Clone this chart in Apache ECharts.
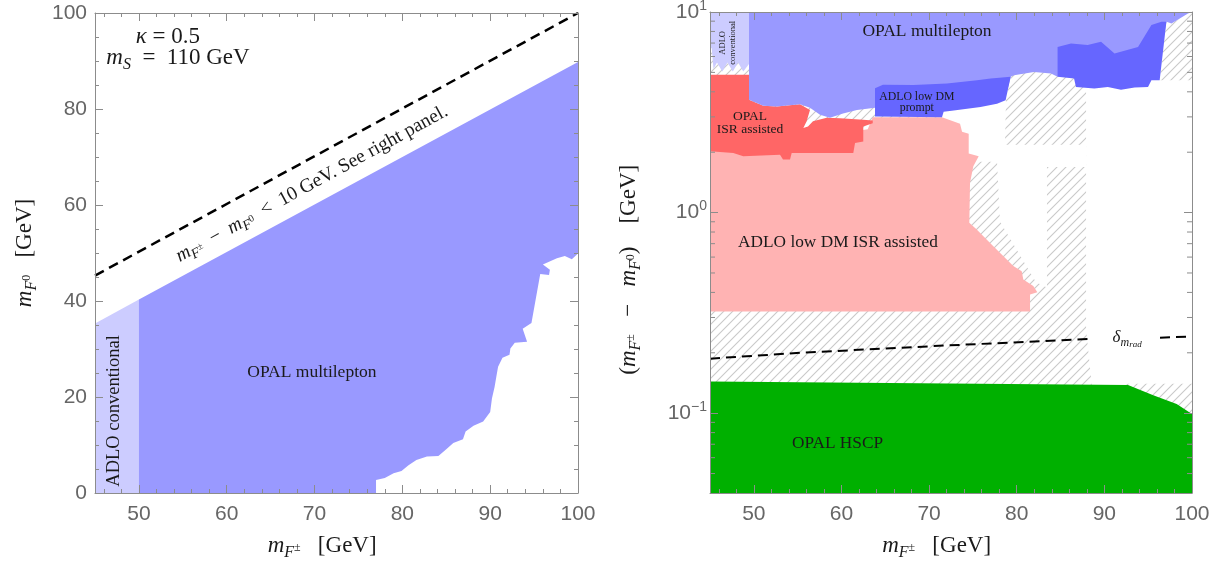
<!DOCTYPE html>
<html><head><meta charset="utf-8">
<script src="https://cdn.jsdelivr.net/npm/echarts@6/dist/echarts.min.js"></script>
<style>html,body{margin:0;padding:0;background:#fff}#c{width:1223px;height:565px}</style>
</head><body><div id="c"></div>
<script>
// ================= DATA =================
// Left panel (m_F0 vs m_F±)
const leftAdloConventional = [[45,0],[50,0],[50,40.3],[45,35.3]];
const leftOpalMultilepton = [[50,40.3],[100,89.8],[100,49.9],[99.3,48.7],[98.5,49.4],[97.6,48.9],[96.0,47.6],[96.8,46.5],[96.7,45.4],[95.7,45.6],[94.7,35.4],[93.7,34.2],[94.2,31.5],[92.8,31.3],[92.3,30.1],[92.2,28.8],[91.4,28.2],[90.9,26.3],[90.7,24.2],[90.5,22.1],[90.2,19.7],[90.0,16.9],[89.2,14.9],[88.1,14.0],[87.2,12.8],[86.9,11.2],[85.8,10.4],[85.0,9.1],[84.1,7.7],[82.8,7.6],[81.6,6.9],[80.7,5.8],[79.9,4.6],[79.0,4.1],[78.0,3.1],[77.0,2.7],[77.0,0],[50,0]];
const leftDiagonal = [[45,45.3],[100,100]];

// Right panel (mass splitting vs m_F±)
const rightHatchMain = [[45,6.62],[49.45,6.62],[49.45,3.65],[78.78,3.73],[79.46,4.92],[81.97,5.08],[87.91,5.08],[87.91,0.262],[88.59,0.135],[45,0.135]];
const rightHatchCorner = [[96.31,4.57],[97.08,8.94],[97.66,8.77],[99.54,9.84],[100,10],[100,4.57]];
const rightHatchHscp = [[92.0,0.14],[100,0.14],[100,0.09],[92.0,0.09]];
const rightClearGap = [[71.25,3.73],[78.78,3.73],[78.66,2.18],[87.91,2.18],[87.91,1.69],[83.45,1.69],[83.45,0.423],[82.2,0.449],[78.09,0.902],[77.75,1.79],[71.25,1.79]];
const rightOpalHscp = [[45,0.04],[45,0.144],[92.7,0.138],[95.58,0.123],[98.25,0.111],[100,0.099],[100,0.04]];
const rightAdloIsr = [[45,0.321],[81.52,0.321],[81.52,0.391],[82.35,0.401],[81.89,0.430],[80.75,0.464],[80.57,0.510],[79.61,0.541],[77.33,0.679],[75.43,0.823],[74.59,0.889],[74.67,1.41],[75.05,1.70],[75.66,1.91],[74.52,1.97],[74.52,2.47],[73.76,2.53],[73.53,2.77],[71.47,2.99],[63.57,2.99],[63.0,2.6],[55,2.3],[45,2.3]];
const rightOpalIsr = [[45,4.86],[49.45,4.86],[49.45,3.65],[51.08,3.41],[52.61,3.38],[55.27,3.47],[56.41,3.25],[56.03,2.85],[55.65,2.64],[56.18,2.69],[56.75,2.85],[58.32,2.97],[59.83,2.95],[62.49,2.90],[63.57,2.88],[63.57,2.79],[62.49,2.69],[62.49,2.26],[61.55,2.22],[61.35,1.98],[54.32,1.98],[54.13,1.84],[53.33,1.84],[52.99,1.945],[48.80,1.91],[47.66,1.98],[45,2.02]];
const rightAdloConventional = [[45,10],[49.45,10],[49.45,5.5],[48.8,5.05],[48.2,5.6],[47.6,5.05],[47.0,5.6],[46.4,5.05],[45.8,5.6],[45.4,5.2],[45.2,6.6],[45,6.62]];
const rightOpalMultilepton = [[49.45,10],[100,10],[99.54,9.84],[97.66,8.77],[97.08,8.94],[96.2,5.5],[85.0,5.2],[84.66,4.75],[83.91,4.93],[81.97,5.02],[79.69,4.84],[79.31,4.75],[79.0,4.2],[75,3.6],[65,3.3],[63.83,3.33],[61.77,3.25],[60.18,3.12],[58.69,2.97],[57.55,3.07],[56.41,3.33],[55.27,3.47],[52.61,3.38],[51.08,3.41],[49.45,3.65]];
const rightAdloPromptA = [[63.83,3.01],[63.83,4.17],[64.74,4.34],[68.22,4.32],[72.04,4.40],[75.47,4.57],[77.02,4.66],[79.31,4.75],[78.73,3.63],[77.75,3.49],[75.87,3.36],[72.81,3.23],[71.66,3.18],[71.47,2.99]];
const rightAdloPromptB = [[84.66,6.70],[86.19,6.96],[88.10,6.84],[89.62,7.10],[91.16,6.21],[93.84,6.70],[95.37,8.61],[96.51,8.94],[97.08,8.94],[96.31,4.57],[95.37,4.57],[94.98,4.23],[93.45,4.20],[91.90,4.10],[90.39,4.23],[88.86,4.15],[86.76,4.23],[86.54,4.66],[84.66,4.75]];
const rightDeltaRadA = [[45,0.187],[55.3,0.200],[70.5,0.216],[88.7,0.235]];
const rightDeltaRadB = [[96.35,0.238],[100,0.241]];

// Ticks
const rightYMinorTicks = [0.05,0.06,0.07,0.08,0.09,0.2,0.3,0.4,0.5,0.6,0.7,0.8,0.9,2,3,4,5,6,7,8,9];

// Text labels
const leftTexts = [
  {at:[53.3,95.0], text:'{it|κ}{rm| = 0.5}', size:23},
  {at:[54.45,90.6], text:'{it|m}{sub|S}{rm|  =  110 GeV}', size:23},
  {at:[69.7,64.4], text:'{it|m}{sub|F}{ss|±}{rm|  −  }{it|m}{sub|F}{ss|0}{rm|  <  10 GeV. See right panel.}', size:19.5, rot:28.7},
  {at:[69.7,25.2], text:'OPAL multilepton', size:17.5},
  {at:[47.16,17.1], text:'ADLO conventional', size:18.5, rot:90}
];
const rightTexts = [
  {at:[69.76,7.96], text:'OPAL multilepton', size:17.5},
  {at:[47.05,7.02], text:'ADLO\nconventional', size:8.5, rot:90, lh:10},
  {at:[49.56,2.81], text:'OPAL\nISR assisted', size:13.5, lh:13},
  {at:[68.6,3.56], text:'ADLO low DM\nprompt', size:11.8, lh:11},
  {at:[59.6,0.71], text:'ADLO low DM ISR assisted', size:17.3},
  {at:[59.55,0.071], text:'OPAL HSCP', size:17.3},
  {at:[92.6,0.237], text:'{it|δ}{sub|m}{ss2|rad}', size:17}
];
const xName = '{it|m}{sub|F}{ss|±}{rm|   [GeV]     }';
const leftYName = '{it|m}{sub|F}{ss|0}{rm|   [GeV]}';
const rightYName = '{rm|(}{it|m}{sub|F}{ss|±}{rm|   −   }{it|m}{sub|F}{ss|0}{rm|)    [GeV]      }';

// ================= STYLE =================
const SERIF = "'Liberation Serif','DejaVu Serif',serif";
const SANS = "'Liberation Sans',Arial,sans-serif";
const TXT = '#1a1a1a';
const AX = '#8c8c8c';
const LBL = '#666666';

function mathRich(S) {
  const sub = Math.round(S*0.7), ss = Math.max(6, Math.round(S*0.52));
  return {
    it: {fontFamily:SERIF, fontStyle:'italic', fontSize:S, color:TXT, fill:TXT, lineHeight:Math.round(S*1.3)},
    rm: {fontFamily:SERIF, fontSize:S, color:TXT, fill:TXT, lineHeight:Math.round(S*1.3)},
    sub: {fontFamily:SERIF, fontStyle:'italic', fontSize:sub, color:TXT, fill:TXT, verticalAlign:'bottom', lineHeight:sub},
    ss: {fontFamily:SERIF, fontSize:ss, color:TXT, fill:TXT, verticalAlign:'bottom', lineHeight:ss, padding:[0,0,Math.round(S*0.32),0]},
    ss2: {fontFamily:SERIF, fontStyle:'italic', fontSize:ss, color:TXT, fill:TXT, verticalAlign:'bottom', lineHeight:ss}
  };
}

function makeHatch() {
  const s = 9;
  const c = document.createElement('canvas'); c.width = s; c.height = s;
  const g = c.getContext('2d');
  g.strokeStyle = '#c9c9c9'; g.lineWidth = 1.1;
  g.beginPath();
  g.moveTo(0,s); g.lineTo(s,0);
  g.moveTo(-2,2); g.lineTo(2,-2);
  g.moveTo(s-2,s+2); g.lineTo(s+2,s-2);
  g.stroke();
  return {image:c, repeat:'repeat'};
}
const HATCH = makeHatch();

function poly(pts, xi, yi, fill) {
  return {
    type:'custom', xAxisIndex:xi, yAxisIndex:yi, silent:true, z:2,
    data: pts, encode:{x:0, y:1},
    renderItem: function(params, api) {
      if (params.dataIndex !== 0) return null;
      return {type:'polygon', shape:{points: pts.map(p => api.coord(p))}, style:{fill:fill, stroke:null}};
    }
  };
}
function dashed(pts, xi, yi, w) {
  return {type:'line', xAxisIndex:xi, yAxisIndex:yi, data:pts, showSymbol:false, symbol:'none', silent:true, z:5,
    lineStyle:{color:'#000', width:w, type:[10,6]}};
}
function txt(item, xi, yi) {
  return {
    type:'custom', xAxisIndex:xi, yAxisIndex:yi, silent:true, z:20,
    data:[item.at], encode:{x:0, y:1},
    renderItem: function(params, api) {
      const p = api.coord(item.at);
      return {type:'text', x:p[0], y:p[1], rotation:(item.rot||0)*Math.PI/180,
        style:{text:item.text, rich:mathRich(item.size), fontFamily:SERIF, fontSize:item.size, fill:TXT,
          align:'center', verticalAlign:'middle', lineHeight:item.lh || Math.round(item.size*1.3)}};
    }
  };
}
function logMinorTicks(vals, xi, yi) {
  return {
    type:'custom', xAxisIndex:xi, yAxisIndex:yi, silent:true, z:30, clip:false,
    data: vals.map(v => [45, v]), encode:{x:0, y:1},
    renderItem: function(params, api) {
      const v = vals[params.dataIndex];
      const a = api.coord([45, v]), b = api.coord([100, v]);
      return {type:'group', children:[
        {type:'line', shape:{x1:a[0], y1:a[1], x2:a[0]+5, y2:a[1]}, style:{stroke:AX, lineWidth:1}},
        {type:'line', shape:{x1:b[0]-5, y1:b[1], x2:b[0], y2:b[1]}, style:{stroke:AX, lineWidth:1}}
      ]};
    }
  };
}

function frameAxis(extra) {
  const base = {
    axisLine:{show:true, onZero:false, lineStyle:{color:AX, width:1}},
    axisTick:{show:true, inside:true, length:8, lineStyle:{color:AX, width:1}},
    minorTick:{show:true, splitNumber:5, length:4, lineStyle:{color:AX, width:1}},
    splitLine:{show:false}, minorSplitLine:{show:false},
    axisLabel:{show:false},
    z:10
  };
  return Object.assign(base, extra);
}
const tickLabel = {show:true, color:LBL, fontFamily:SANS, fontSize:21, showMinLabel:false};
const nameStyle = {fontFamily:SERIF, fontSize:23, color:TXT, rich:mathRich(23)};

const option = {
  animation:false,
  backgroundColor:'#fff',
  grid:[
    {left:95, top:13, width:483, height:480, containLabel:false, outerBoundsMode:'none'},
    {left:710, top:12, width:482, height:481, containLabel:false, outerBoundsMode:'none'}
  ],
  xAxis:[
    frameAxis({type:'value', gridIndex:0, min:45, max:100, position:'bottom',
      axisLabel:Object.assign({}, tickLabel, {margin:11}),
      name:xName, nameLocation:'middle', nameGap:38, nameTextStyle:nameStyle}),
    frameAxis({type:'value', gridIndex:0, min:45, max:100, position:'top'}),
    frameAxis({type:'value', gridIndex:1, min:45, max:100, position:'bottom',
      axisLabel:Object.assign({}, tickLabel, {margin:11}),
      name:xName, nameLocation:'middle', nameGap:38, nameTextStyle:nameStyle}),
    frameAxis({type:'value', gridIndex:1, min:45, max:100, position:'top'})
  ],
  yAxis:[
    frameAxis({type:'value', gridIndex:0, min:0, max:100, position:'left',
      minorTick:{show:true, splitNumber:4, length:4, lineStyle:{color:AX, width:1}},
      axisLabel:Object.assign({}, tickLabel, {margin:8, showMinLabel:true}),
      name:leftYName, nameLocation:'middle', nameGap:55, nameTextStyle:nameStyle}),
    frameAxis({type:'value', gridIndex:0, min:0, max:100, position:'right',
      minorTick:{show:true, splitNumber:4, length:4, lineStyle:{color:AX, width:1}}}),
    frameAxis({type:'log', logBase:10, gridIndex:1, min:0.04, max:10, position:'left',
      minorTick:{show:false},
      axisLabel:{show:true, showMinLabel:false, margin:3,
        formatter: function(v){ const e = Math.round(Math.log10(v)); return '{b|10}{e|' + (e < 0 ? '−' + (-e) : e) + '}'; },
        rich:{b:{fontFamily:SANS, fontSize:21, color:LBL, lineHeight:26},
              e:{fontFamily:SANS, fontSize:14, color:LBL, verticalAlign:'top', lineHeight:14}}},
      name:rightYName, nameLocation:'middle', nameGap:66, nameTextStyle:nameStyle}),
    frameAxis({type:'log', logBase:10, gridIndex:1, min:0.04, max:10, position:'right', minorTick:{show:false}})
  ],
  series:[
    // left panel
    poly(leftAdloConventional, 0, 0, '#ccccff'),
    poly(leftOpalMultilepton, 0, 0, '#9999ff'),
    dashed(leftDiagonal, 0, 0, 2.5),
    // right panel
    poly(rightHatchMain, 2, 2, HATCH),
    poly(rightHatchCorner, 2, 2, HATCH),
    poly(rightHatchHscp, 2, 2, HATCH),
    poly(rightClearGap, 2, 2, '#ffffff'),
    poly(rightOpalHscp, 2, 2, '#00b000'),
    poly(rightAdloIsr, 2, 2, '#ffb3b3'),
    poly(rightOpalIsr, 2, 2, '#ff6666'),
    poly(rightAdloConventional, 2, 2, '#ccccff'),
    poly(rightOpalMultilepton, 2, 2, '#9999ff'),
    poly(rightAdloPromptA, 2, 2, '#6666ff'),
    poly(rightAdloPromptB, 2, 2, '#6666ff'),
    dashed(rightDeltaRadA, 2, 2, 2),
    dashed(rightDeltaRadB, 2, 2, 2),
    logMinorTicks(rightYMinorTicks, 2, 2)
  ].concat(leftTexts.map(t => txt(t, 0, 0)), rightTexts.map(t => txt(t, 2, 2)))
};

const chart = echarts.init(document.getElementById('c'), null, {renderer:'canvas'});
chart.setOption(option);
</script>
</body></html>
